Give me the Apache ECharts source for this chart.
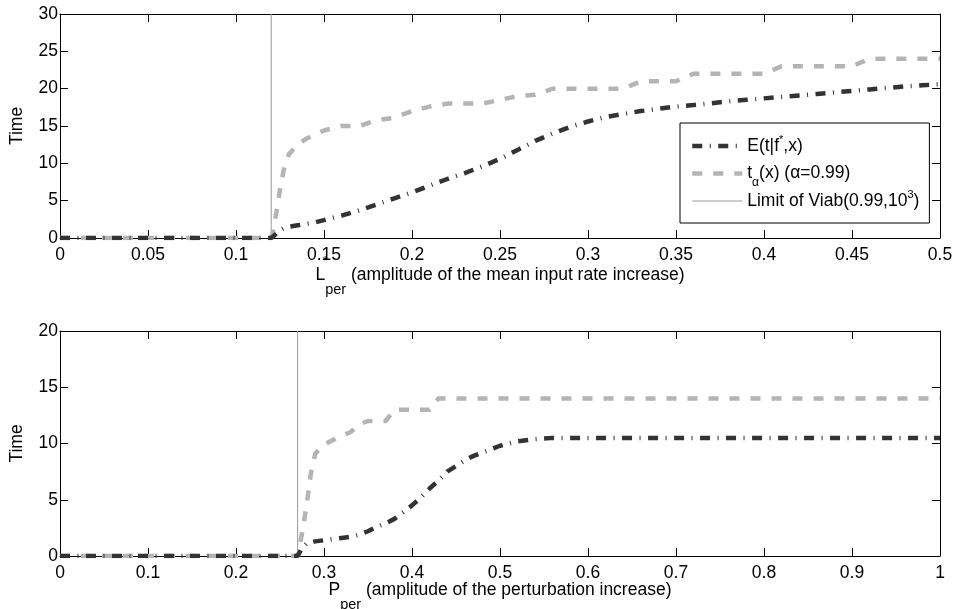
<!DOCTYPE html>
<html>
<head>
<meta charset="utf-8">
<script src="https://cdn.jsdelivr.net/npm/echarts@6/dist/echarts.min.js"></script>
<style>html,body{margin:0;padding:0;background:#fff}#c{width:954px;height:609px}</style>
</head>
<body>
<div id="c"></div>
<script>
// ---- data (top panel: L*_per) ----
var topX = [0, 0.05, 0.1, 0.12, 0.121, 0.123, 0.125, 0.127, 0.13, 0.135, 0.14, 0.145, 0.15, 0.16, 0.17, 0.18, 0.19, 0.2, 0.21, 0.22, 0.23, 0.24, 0.25, 0.26, 0.27, 0.28, 0.29, 0.3, 0.31, 0.32, 0.33, 0.34, 0.35, 0.36, 0.37, 0.38, 0.39, 0.4, 0.41, 0.42, 0.43, 0.44, 0.45, 0.46, 0.47, 0.48, 0.49, 0.5];
var topE = [0, 0, 0, 0, 0.2, 0.6, 1.0, 1.3, 1.5, 1.7, 1.9, 2.1, 2.4, 3.0, 3.7, 4.5, 5.3, 6.1, 7.0, 7.9, 8.7, 9.6, 10.6, 11.8, 13.0, 14.0, 14.9, 15.6, 16.2, 16.6, 17.0, 17.3, 17.6, 17.8, 18.05, 18.3, 18.5, 18.7, 18.9, 19.1, 19.3, 19.5, 19.7, 19.9, 20.1, 20.3, 20.45, 20.6];
var topT = [0, 0, 0, 0, 0.8, 3.5, 6.5, 9.0, 11.2, 12.5, 13.3, 13.9, 14.4, 15, 15, 15.8, 16.1, 17, 17.6, 18, 18, 18, 18.5, 19, 19.2, 20, 20, 20, 20, 20, 21, 21, 21, 22, 22, 22, 22, 22, 23, 23, 23, 23, 23, 24, 24, 24, 24, 24];
var topLimit = 0.12;

// ---- data (bottom panel: P_per) ----
var botX = [0, 0.1, 0.2, 0.27, 0.275, 0.28, 0.285, 0.29, 0.3, 0.31, 0.32, 0.33, 0.34, 0.35, 0.36, 0.37, 0.38, 0.39, 0.4, 0.41, 0.42, 0.43, 0.44, 0.45, 0.46, 0.47, 0.48, 0.49, 0.5, 0.52, 0.54, 0.56, 0.58, 0.6, 0.7, 0.8, 0.9, 1.0];
var botE = [0, 0, 0, 0, 0.7, 1.1, 1.2, 1.3, 1.4, 1.5, 1.6, 1.7, 1.9, 2.2, 2.6, 2.9, 3.3, 3.9, 4.5, 5.2, 6.0, 6.7, 7.5, 8.0, 8.5, 8.9, 9.2, 9.5, 9.8, 10.2, 10.4, 10.5, 10.5, 10.5, 10.5, 10.5, 10.5, 10.5];
var botT = [0, 0, 0, 0, 2.0, 4.4, 7.3, 9.1, 9.9, 10.3, 10.7, 11, 11.7, 12, 12, 12, 13, 13, 13, 13, 13, 14, 14, 14, 14, 14, 14, 14, 14, 14, 14, 14, 14, 14, 14, 14, 14, 14];
var botLimit = 0.27;

// ---- axes: [min, max, interval] ----
var topXRange = [0, 0.5, 0.05];
var topYRange = [0, 30, 5];
var botXRange = [0, 1, 0.1];
var botYRange = [0, 20, 5];

var nameE = 'E(t|f*,x)';
var nameT = 't_α(x) (α=0.99)';
var nameL = 'Limit of Viab(0.99,10^3)';

function pairs(xs, ys) { return xs.map(function (x, i) { return [x, ys[i]]; }); }

var FONT = 'Liberation Sans, Arial, Helvetica, sans-serif';
var FS = 17.5;
var darkCol = '#333333', grayCol = '#b4b4b4', limCol = '#9a9a9a';
var darkStyle = { color: darkCol, width: 4.5, type: [10, 7.5, 1, 7.5], cap: 'butt' };
var grayStyle = { color: grayCol, width: 4.5, type: [10, 11], cap: 'butt' };
var limStyle = { color: limCol, width: 1, type: 'solid' };

var grids = [
  { left: 60, right: 14, top: 14, height: 224, containLabel: false, outerBoundsMode: 'none' },
  { left: 60, right: 14, top: 331, height: 225, containLabel: false, outerBoundsMode: 'none' }
];

var nameRich = {
  n: { fontFamily: FONT, fontSize: FS, color: '#000', lineHeight: 20, height: 20 },
  sup: { fontFamily: FONT, fontSize: 12, color: '#000', lineHeight: 1, padding: [0, 0, 27, 0], width: 0, align: 'left' },
  sub: { fontFamily: FONT, fontSize: 14.5, color: '#000', lineHeight: 1, padding: [30, 0, 0, 0] }
};

function xAx(grid, rng, pos, labels, name, gap) {
  return {
    type: 'value', gridIndex: grid, position: pos, min: rng[0], max: rng[1], interval: rng[2],
    axisLine: { show: true, onZero: false, lineStyle: { color: '#000', width: 1 } },
    axisTick: { show: true, inside: true, length: 8, lineStyle: { color: '#000' } },
    axisLabel: { show: labels, margin: 8, color: '#000', fontFamily: FONT, fontSize: FS, hideOverlap: false, showMinLabel: true, showMaxLabel: true },
    splitLine: { show: false },
    name: name || '', nameLocation: 'middle', nameGap: gap || 0, nameMoveOverlap: false,
    nameTextStyle: { color: '#000', fontFamily: FONT, fontSize: FS, rich: nameRich }
  };
}
function yAx(grid, rng, pos, labels, name) {
  return {
    type: 'value', gridIndex: grid, position: pos, min: rng[0], max: rng[1], interval: rng[2],
    axisLine: { show: true, onZero: false, lineStyle: { color: '#000', width: 1 } },
    axisTick: { show: true, inside: true, length: 8, lineStyle: { color: '#000' } },
    axisLabel: { show: labels, margin: 2, color: '#000', fontFamily: FONT, fontSize: FS, showMinLabel: true, showMaxLabel: true },
    splitLine: { show: false },
    name: name || '', nameLocation: 'middle', nameGap: 34, nameMoveOverlap: false,
    nameTextStyle: { color: '#000', fontFamily: FONT, fontSize: FS }
  };
}

var legendRich = {
  n: { fontFamily: FONT, fontSize: FS, color: '#000', lineHeight: 24, height: 24 },
  sup: { fontFamily: FONT, fontSize: 11, color: '#000', lineHeight: 1, padding: [0, 0, 12, 0] },
  sub: { fontFamily: FONT, fontSize: 12, color: '#000', lineHeight: 1, padding: [19, 0, 0, 0] }
};

var option = {
  backgroundColor: '#fff',
  animation: false,
  grid: grids,
  xAxis: [
    xAx(0, topXRange, 'bottom', true, '{n|L}{sup|*}{sub|per}{n| (amplitude of the mean input rate increase)}', 27),
    xAx(0, topXRange, 'top', false),
    xAx(1, botXRange, 'bottom', true, '{n|P}{sub|per}{n| (amplitude of the perturbation increase)}', 24),
    xAx(1, botXRange, 'top', false)
  ],
  yAxis: [
    yAx(0, topYRange, 'left', true, 'Time'),
    yAx(0, topYRange, 'right', false),
    yAx(1, botYRange, 'left', true, 'Time'),
    yAx(1, botYRange, 'right', false)
  ],
  legend: {
    orient: 'vertical', left: 680, top: 123,
    padding: [11, 10, 10, 10], itemGap: 0, itemWidth: 50, itemHeight: 14,
    backgroundColor: '#fff', borderColor: '#000', borderWidth: 1, borderRadius: 0,
    itemStyle: { opacity: 0 },
    data: [
      { name: nameE, lineStyle: darkStyle },
      { name: nameT, lineStyle: grayStyle },
      { name: nameL, lineStyle: limStyle }
    ],
    formatter: function (n) {
      if (n === nameE) return '{n|E(t|f}{sup|*}{n|,x)}';
      if (n === nameT) return '{n|t}{sub|α}{n|(x) (α=0.99)}';
      return '{n|Limit of Viab(0.99,10}{sup|3}{n|)}';
    },
    textStyle: { color: '#000', fontFamily: FONT, fontSize: FS, rich: legendRich }
  },
  series: [
    { name: nameL, type: 'line', xAxisIndex: 0, yAxisIndex: 0, data: [[topLimit, topYRange[0]], [topLimit, topYRange[1]]], showSymbol: false, symbol: 'none', lineStyle: limStyle, itemStyle: { color: limCol }, z: 1 },
    { name: nameT, type: 'line', xAxisIndex: 0, yAxisIndex: 0, data: pairs(topX, topT), showSymbol: false, symbol: 'none', lineStyle: grayStyle, itemStyle: { color: grayCol }, z: 2 },
    { name: nameE, type: 'line', xAxisIndex: 0, yAxisIndex: 0, data: pairs(topX, topE), showSymbol: false, symbol: 'none', lineStyle: darkStyle, itemStyle: { color: darkCol }, z: 3 },
    { name: nameL, type: 'line', xAxisIndex: 2, yAxisIndex: 2, data: [[botLimit, botYRange[0]], [botLimit, botYRange[1]]], showSymbol: false, symbol: 'none', lineStyle: limStyle, itemStyle: { color: limCol }, z: 1 },
    { name: nameT, type: 'line', xAxisIndex: 2, yAxisIndex: 2, data: pairs(botX, botT), showSymbol: false, symbol: 'none', lineStyle: grayStyle, itemStyle: { color: grayCol }, z: 2 },
    { name: nameE, type: 'line', xAxisIndex: 2, yAxisIndex: 2, data: pairs(botX, botE), showSymbol: false, symbol: 'none', lineStyle: darkStyle, itemStyle: { color: darkCol }, z: 3 }
  ]
};
var chart = echarts.init(document.getElementById('c'), null, { renderer: 'canvas' });
chart.setOption(option);
</script>
</body>
</html>
